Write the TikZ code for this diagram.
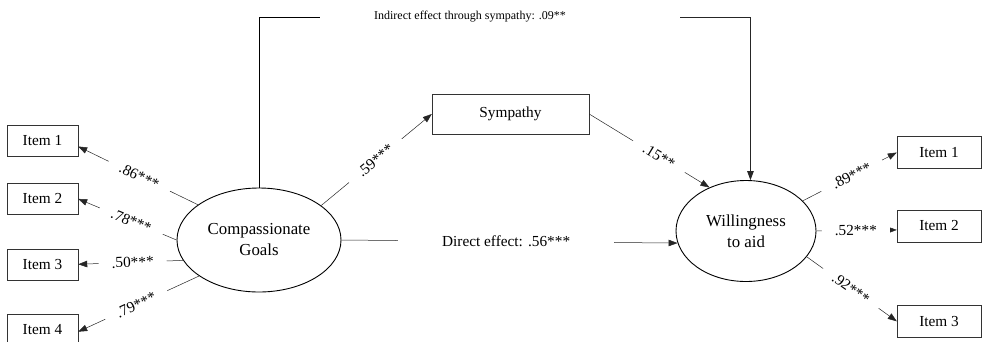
\documentclass[tikz,border=0pt]{standalone}
\usepackage{fontspec}
\setmainfont{Liberation Serif}
\usetikzlibrary{arrows.meta, positioning, shapes.geometric}

\begin{document}
\begin{tikzpicture}[x=1pt, y=-1pt,
  item/.style={draw=black!80, rectangle, minimum width=71pt, minimum height=31pt, font=\fontsize{15.3}{18}\selectfont, inner sep=2pt},
  itemr/.style={item, minimum width=84pt, minimum height=32pt},
  latent/.style={draw, ellipse, line width=0.9pt, font=\fontsize{16.8}{21}\selectfont, align=center},
  arrow/.style={-{Triangle[length=9pt,width=6.5pt]}, line width=0.5pt, draw=black!85},
  coef/.style={fill=white, sloped, inner xsep=13pt, inner ysep=1pt, font=\fontsize{15.3}{18}\selectfont},
  every node/.style={inner sep=2pt}
]
\useasboundingbox (0,0) rectangle (982,341);

% Latent variables
\node[latent, minimum width=164pt, minimum height=104pt] (cg) at (259,240) {Compassionate\\Goals};
\node[latent, minimum width=140pt, minimum height=101pt] (wa) at (746,231) {Willingness\\to aid};

% Mediator
\node[item, minimum width=157pt, minimum height=40pt] (sym) at (510.5,114) {Sympathy};

% Items of compassionate goals
\node[item] (li1) at (42.5,140.5) {Item 1};
\node[item, below=27pt of li1] (li2) {Item 2};
\node[item, below=34pt of li2] (li3) {Item 3};
\node[item, below=34pt of li3] (li4) {Item 4};

% Items of willingness to aid
\node[itemr] (ri1) at (939,152.5) {Item 1};
\node[itemr, below=41pt of ri1] (ri2) {Item 2};
\node[itemr, below=63pt of ri2] (ri3) {Item 3};

% Loadings
\draw[arrow] (cg.150) -- node[coef, pos=.49] {.86***} ([yshift=-6pt]li1.east);
\draw[arrow] (cg.west) -- node[coef, pos=.46] {.78***} (li2.east);
\draw[arrow] (cg.195) -- node[coef, pos=.48] {.50***} (li3.east);
\draw[arrow] (cg.211) -- node[coef, pos=.52] {.79***} ([yshift=-2pt]li4.east);
\draw[arrow] (wa.28) -- node[coef, pos=.52] {.89***} (ri1.west);
\draw[arrow] (wa.east) -- node[coef, pos=.49] {.52***} ([yshift=-4pt]ri2.west);
\draw[arrow] (wa.-23) -- node[coef, pos=.49] {.92***} (ri3.west);

% Paths through sympathy
\draw[arrow] (cg.29) -- node[coef, pos=.49] {.59***} (sym.west);
\draw[arrow] (sym.east) -- node[coef, pos=.58] {.15**} (wa.130);

% Direct effect
\draw[arrow] (cg.east) -- node[fill=white, pos=.49, inner xsep=44pt, font=\fontsize{15.3}{18}\selectfont] {Direct effect: .56***} (wa.190);

% Indirect effect
\node[font=\fontsize{12}{14}\selectfont] (ind) at (470,17) {Indirect effect through sympathy: .09**};
\coordinate (gapl) at (320,17);
\coordinate (gapr) at (680,17);
\draw[line width=0.8pt] (cg.north) |- (gapl);
\draw[arrow, line width=0.8pt] (gapr) -| (wa.85);

\end{tikzpicture}
\end{document}
